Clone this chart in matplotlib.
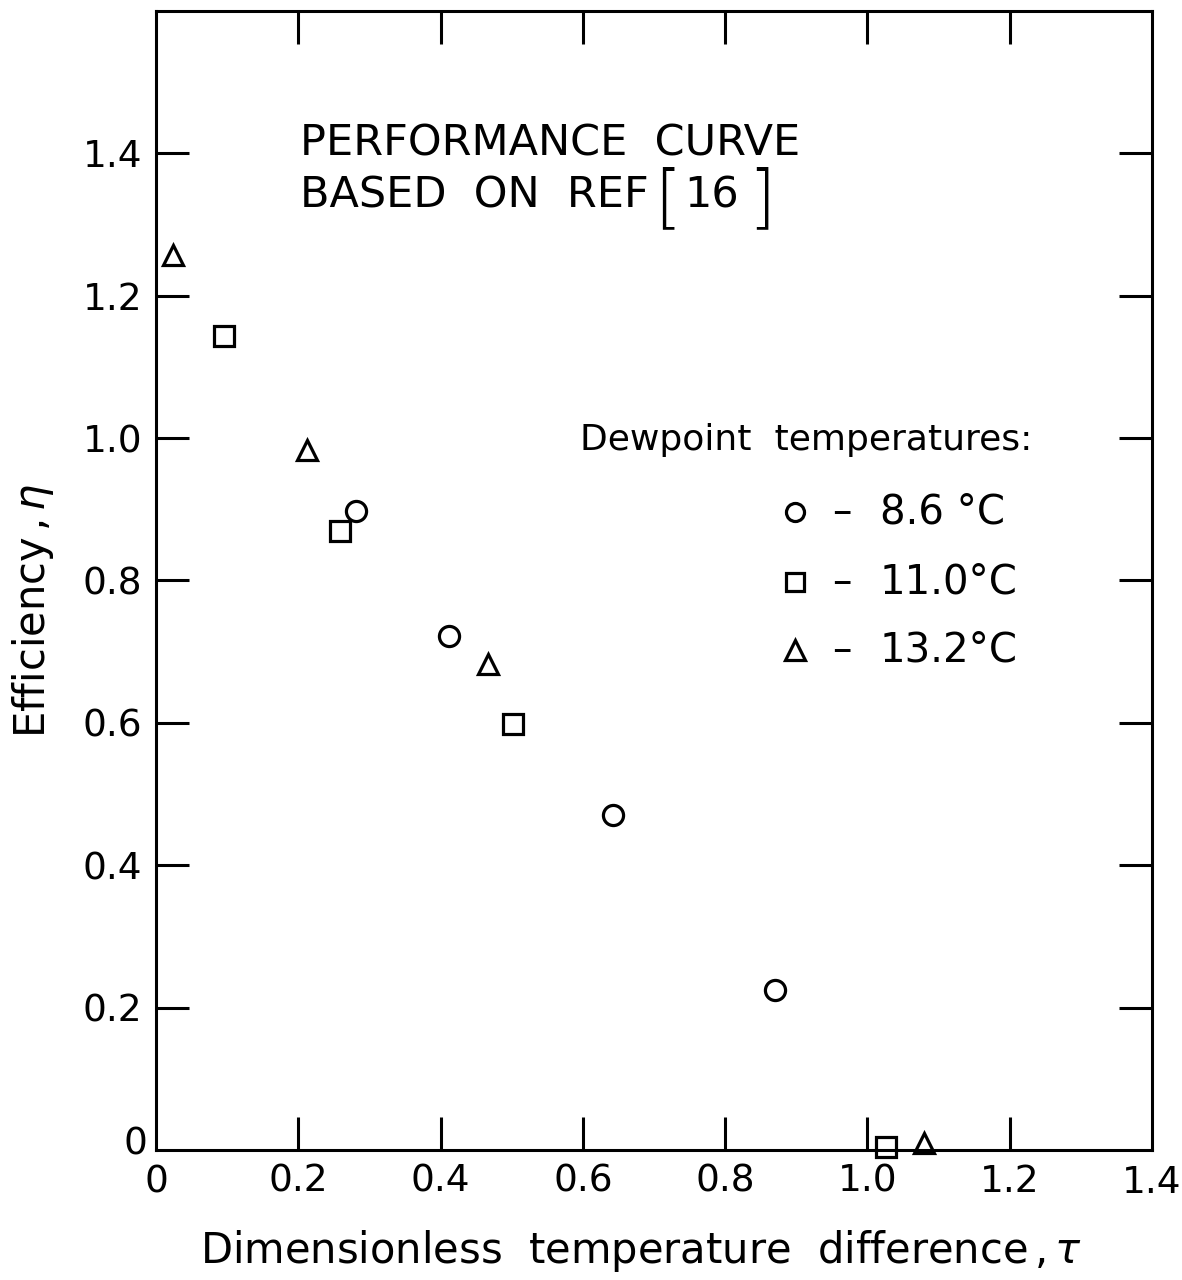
import matplotlib
matplotlib.use("Agg")
import matplotlib.pyplot as plt

# ---- data ----
circle_tau = [0.281, 0.412, 0.643, 0.870]
circle_eta = [0.897, 0.722, 0.471, 0.225]
square_tau = [0.096, 0.259, 0.502, 1.026]
square_eta = [1.143, 0.869, 0.599, 0.004]
tri_tau = [0.024, 0.212, 0.467, 1.079]
tri_eta = [1.257, 0.984, 0.683, 0.010]

series_labels = ["8.6 °C", "11.0°C", "13.2°C"]
x_ticks = [0.2, 0.4, 0.6, 0.8, 1.0, 1.2]
x_ticklabels = ["0.2", "0.4", "0.6", "0.8", "1.0", "1.2"]
y_ticks = [0.2, 0.4, 0.6, 0.8, 1.0, 1.2, 1.4]
y_ticklabels = ["0.2", "0.4", "0.6", "0.8", "1.0", "1.2", "1.4"]

plt.rcParams['font.family'] = ['DejaVu Sans']
plt.rcParams['mathtext.fontset'] = 'dejavusans'

fig = plt.figure(figsize=(11.82, 12.8), dpi=100)
ax = fig.add_axes([0.132, 0.1016, 0.8426, 0.8898])
ax.set_xlim(0, 1.4)
ax.set_ylim(0, 1.6)

mk = dict(linestyle='none', markerfacecolor='none', markeredgecolor='black',
          markeredgewidth=2.3, clip_on=False)
ax.plot(circle_tau, circle_eta, marker='o', markersize=14.5, **mk)
ax.plot(square_tau, square_eta, marker='s', markersize=14, **mk)
ax.plot(tri_tau, tri_eta, marker='^', markersize=15, **mk)

for s in ax.spines.values():
    s.set_linewidth(2.2)

ax.set_xticks(x_ticks)
ax.set_xticklabels(x_ticklabels)
ax.set_yticks(y_ticks)
ax.set_yticklabels(y_ticklabels)
ax.tick_params(direction='in', length=24, width=2.2, top=True, right=True,
               labelsize=27)
ax.tick_params(axis='x', pad=10)
ax.tick_params(axis='y', pad=10)

# origin and end labels
ax.text(0, -0.021, "0", ha='center', va='top', fontsize=27)
ax.text(-0.012, 0.008, "0", ha='right', va='center', fontsize=27)
ax.text(1.4, -0.021, "1.4", ha='center', va='top', fontsize=27)

ax.set_xlabel("Dimensionless  temperature  difference$\\,$,$\\,\\tau$", fontsize=30)
ax.set_ylabel("Efficiency$\\,$,$\\,\\eta$", fontsize=30)

def ax_xy(px, py):
    return (px - 156) / 996.0, (1150 - py) / 1139.0

ax.xaxis.set_label_coords(*ax_xy(641, 1228))
ax.yaxis.set_label_coords(*ax_xy(56, 611))

tk = dict(transform=ax.transAxes, va='baseline')
x0, y0 = ax_xy(300, 155)
ax.text(x0, y0, "PERFORMANCE  CURVE", ha='left', fontsize=31, **tk)
x0, y0 = ax_xy(300, 208)
ax.text(x0, y0, "BASED  ON  REF", ha='left', fontsize=31, **tk)
x0, y0 = ax_xy(668, 219)
ax.text(x0, y0, "[", ha='center', fontsize=50, fontweight='light', **tk)
x0, y0 = ax_xy(712, 208)
ax.text(x0, y0, "16", ha='center', fontsize=31, **tk)
x0, y0 = ax_xy(762, 219)
ax.text(x0, y0, "]", ha='center', fontsize=50, fontweight='light', **tk)

x0, y0 = ax_xy(580, 450)
ax.text(x0, y0, "Dewpoint  temperatures:", ha='left', fontsize=26, **tk)

leg_markers = ['o', 's', '^']
leg_sizes = [13, 12.5, 14]
leg_y_px = [512, 582, 650]
for m, ms, ypx, lab in zip(leg_markers, leg_sizes, leg_y_px, series_labels):
    xm, ym = ax_xy(795, ypx)
    ax.plot([xm], [ym], marker=m, markersize=ms, transform=ax.transAxes, **mk)
    xd, _ = ax_xy(842, ypx)
    ax.text(xd, ym, "–", ha='center', va='center', fontsize=28, transform=ax.transAxes)
    xv, yb = ax_xy(880, ypx + 12)
    ax.text(xv, yb, lab, ha='left', fontsize=29, **tk)

fig.savefig("out.png", dpi=100, facecolor='white')
